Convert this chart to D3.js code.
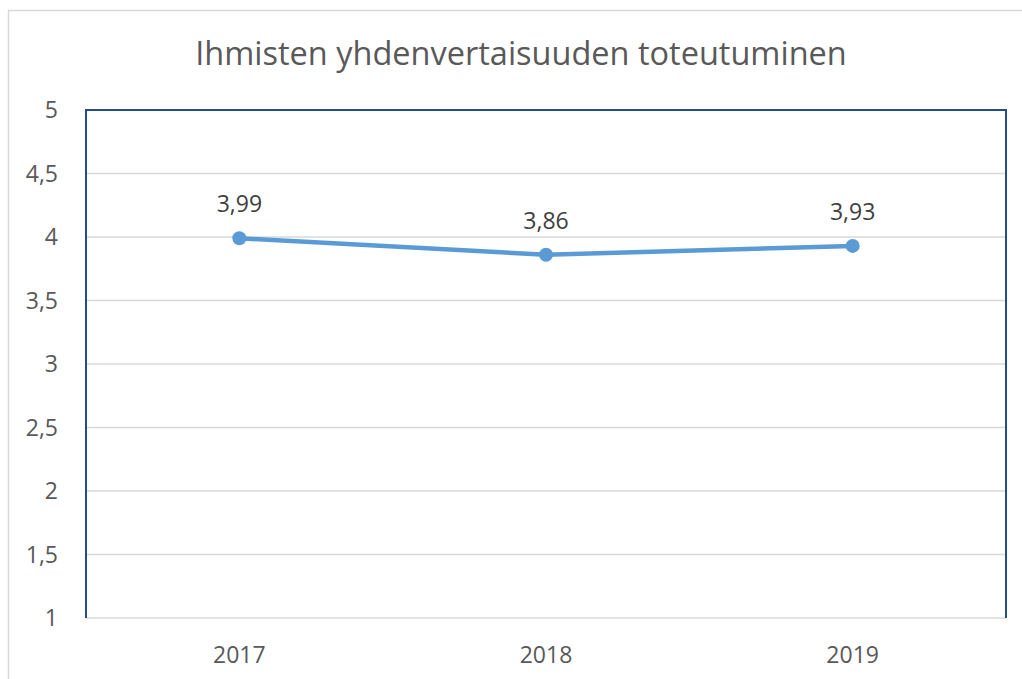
<!DOCTYPE html>
<html>
<head>
<meta charset="utf-8">
<script src="https://cdn.jsdelivr.net/npm/d3@7"></script>
<style>
  body { margin: 0; background: #fff; overflow: hidden; }
  text { font-family: "Open Sans", "Noto Sans", sans-serif; }
</style>
</head>
<body>
<div id="chart"></div>
<script>
const title = 'Ihmisten yhdenvertaisuuden toteutuminen'
const years = ['2017', '2018', '2019']
const values = [3.99, 3.86, 3.93]
const yTicks = [1, 1.5, 2, 2.5, 3, 3.5, 4, 4.5, 5]

const width = 1022
const height = 679
const margin = { top: 110, right: 16, bottom: 61, left: 86 }
const innerW = width - margin.left - margin.right
const innerH = height - margin.top - margin.bottom

const fmt = d => String(d).replace('.', ',')

const svg = d3.select('#chart').append('svg')
  .attr('width', width)
  .attr('height', height)
  .style('display', 'block')

// outer frame (right and bottom edges fall outside the picture)
svg.append('rect')
  .attr('x', 8.5).attr('y', 10.5)
  .attr('width', 1020).attr('height', 700)
  .attr('fill', 'none')
  .attr('stroke', '#d9d9d9')
  .attr('stroke-width', 1.5)

svg.append('text')
  .attr('x', 521)
  .attr('y', 65)
  .attr('text-anchor', 'middle')
  .attr('font-size', 32.5)
  .attr('fill', '#595959')
  .text(title)

const g = svg.append('g')
  .attr('transform', `translate(${margin.left},${margin.top})`)

const x = d3.scaleBand().domain(years).range([0, innerW])
const y = d3.scaleLinear().domain([1, 5]).range([innerH, 0])

// gridlines
g.append('g').selectAll('line')
  .data(yTicks)
  .enter().append('line')
  .attr('x1', 0)
  .attr('x2', innerW)
  .attr('y1', d => y(d))
  .attr('y2', d => y(d))
  .attr('stroke', '#d9d9d9')
  .attr('stroke-width', 1.5)

// plot border (left, top, right)
g.append('path')
  .attr('d', `M0,${innerH}V0H${innerW}V${innerH}`)
  .attr('fill', 'none')
  .attr('stroke', '#1f4e8c')
  .attr('stroke-width', 2)

// y tick labels
g.append('g').selectAll('text')
  .data(yTicks)
  .enter().append('text')
  .attr('x', -28)
  .attr('y', d => y(d))
  .attr('dy', '0.36em')
  .attr('text-anchor', 'end')
  .attr('font-size', 23)
  .attr('fill', '#595959')
  .text(fmt)

// x labels
g.append('g').selectAll('text')
  .data(years)
  .enter().append('text')
  .attr('x', d => x(d) + x.bandwidth() / 2)
  .attr('y', innerH + 45)
  .attr('text-anchor', 'middle')
  .attr('font-size', 23)
  .attr('fill', '#595959')
  .text(d => d)

const pts = years.map((d, i) => ({ year: d, value: values[i] }))

g.append('path')
  .datum(pts)
  .attr('d', d3.line().x(d => x(d.year) + x.bandwidth() / 2).y(d => y(d.value)))
  .attr('fill', 'none')
  .attr('stroke', '#5b9bd5')
  .attr('stroke-width', 4.5)
  .attr('stroke-linecap', 'round')

g.append('g').selectAll('circle')
  .data(pts)
  .enter().append('circle')
  .attr('cx', d => x(d.year) + x.bandwidth() / 2)
  .attr('cy', d => y(d.value))
  .attr('r', 7)
  .attr('fill', '#5b9bd5')

g.append('g').selectAll('text')
  .data(pts)
  .enter().append('text')
  .attr('x', d => x(d.year) + x.bandwidth() / 2)
  .attr('y', d => y(d.value) - 26)
  .attr('text-anchor', 'middle')
  .attr('font-size', 23)
  .attr('fill', '#404040')
  .text(d => fmt(d.value))
</script>
</body>
</html>
